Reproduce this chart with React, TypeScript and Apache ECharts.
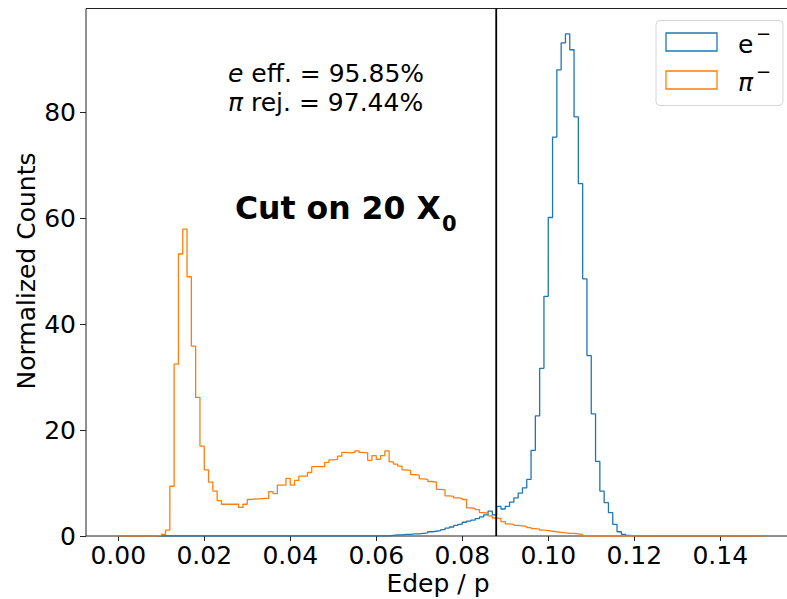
import React, { useEffect, useRef } from "react";
import * as echarts from "echarts";

// Histogram binning (bin edges from 0 to 0.15, 150 bins)
const BIN_START = 0;
const BIN_WIDTH = 0.001;
const HIST_END = 0.15;
const CUT_VALUE = 0.0879;
const Y_MAX = 99.7;

const X_TICKS = [0, 0.02, 0.04, 0.06, 0.08, 0.1, 0.12, 0.14];
const Y_TICKS = [0, 20, 40, 60, 80];

// e- normalized counts per bin
const ELECTRON = [
  0, 0, 0, 0, 0, 0, 0, 0, 0, 0,
  0, 0, 0, 0, 0, 0, 0, 0, 0, 0,
  0, 0, 0, 0, 0, 0, 0, 0, 0, 0,
  0, 0, 0, 0, 0, 0, 0, 0, 0, 0,
  0, 0, 0, 0, 0, 0, 0, 0, 0, 0,
  0, 0, 0, 0, 0, 0, 0, 0, 0, 0,
  0, 0, 0, 0.1, 0.2, 0.2, 0.3, 0.3, 0.4, 0.4,
  0.5, 0.6, 0.8, 0.9, 1.0, 1.2, 1.5, 1.7, 2.0, 2.2,
  2.6, 2.8, 3.0, 3.3, 3.6, 4.0, 4.7, 4.0, 5.6, 5.1,
  5.6, 6.4, 7.2, 8.1, 9.1, 10.7, 16.2, 22.7, 31.7, 45.3,
  60.2, 75.4, 88.1, 93.2, 94.9, 91.9, 79.2, 66.6, 48.6, 34.1,
  23.1, 14.1, 8.5, 6.3, 4.4, 2.2, 0.8, 0.3, 0.1, 0,
  0, 0, 0, 0, 0, 0, 0, 0, 0, 0,
  0, 0, 0, 0, 0, 0, 0, 0, 0, 0,
  0, 0, 0, 0, 0, 0, 0, 0, 0, 0,
];

// pi- normalized counts per bin
const PION = [
  0, 0, 0, 0, 0, 0, 0, 0, 0, 0.1,
  0.3, 1.1, 9.4, 32.5, 53.3, 58.0, 49.0, 35.9, 26.2, 17.0,
  12.5, 10.2, 8.5, 6.7, 6.0, 6.0, 6.0, 6.0, 5.4, 6.0,
  6.9, 7.0, 7.0, 7.1, 7.1, 8.4, 8.0, 9.6, 9.6, 10.9,
  9.6, 10.5, 11.3, 11.3, 12.0, 13.1, 13.1, 13.1, 13.9, 14.4,
  14.5, 15.1, 15.8, 15.7, 15.8, 16.1, 15.8, 15.7, 14.3, 15.2,
  14.5, 15.2, 16.1, 14.0, 13.6, 13.2, 12.5, 12.4, 11.6, 11.5,
  10.8, 10.7, 10.3, 10.2, 8.8, 8.7, 7.6, 7.5, 7.2, 7.1,
  6.9, 5.3, 5.2, 5.0, 4.4, 4.3, 3.8, 3.4, 3.3, 2.7,
  2.3, 2.2, 2.0, 1.9, 1.8, 1.6, 1.4, 1.3, 1.1, 1.0,
  0.9, 0.8, 0.7, 0.6, 0.5, 0.5, 0.4, 0.3, 0, 0,
  0, 0, 0, 0, 0, 0, 0, 0, 0, 0,
  0, 0, 0, 0, 0, 0, 0, 0, 0, 0,
  0, 0, 0, 0, 0, 0, 0, 0, 0, 0,
  0, 0, 0, 0, 0, 0, 0, 0, 0, 0,
];

const BLUE = "#1f77b4";
const ORANGE = "#ff7f0e";
const FONT = "DejaVu Sans";
const FS = 25;

function stepData(vals: number[]): number[][] {
  const pts: number[][] = [[BIN_START, 0]];
  vals.forEach((v, i) => pts.push([BIN_START + i * BIN_WIDTH, v]));
  pts.push([HIST_END, vals[vals.length - 1]]);
  pts.push([HIST_END, 0]);
  return pts;
}

export default function App() {
  const ref = useRef<HTMLDivElement>(null);

  useEffect(() => {
    if (!ref.current) return;
    const chart = echarts.init(ref.current, null, { renderer: "svg" });
    const option: any = {
      animation: false,
      backgroundColor: "#ffffff",
      grid: {
        left: 86,
        right: -8.5,
        top: 8.5,
        bottom: 63,
        show: true,
        borderColor: "#222",
        borderWidth: 1,
        backgroundColor: "transparent",
        outerBoundsMode: "none",
        containLabel: false,
      },
      xAxis: {
        type: "value",
        min: -0.0075,
        max: 0.1575,
        splitLine: { show: false },
        axisLine: { show: false, onZero: false },
        axisTick: {
          show: true,
          inside: false,
          length: 5,
          customValues: X_TICKS,
          lineStyle: { color: "#222", width: 1 },
        },
        axisLabel: {
          customValues: X_TICKS,
          formatter: (v: number) => v.toFixed(2),
          fontFamily: FONT,
          fontSize: FS,
          color: "#000",
          margin: 7,
        },
      },
      yAxis: {
        type: "value",
        min: 0,
        max: Y_MAX,
        splitLine: { show: false },
        axisLine: { show: false, onZero: false },
        axisTick: {
          show: true,
          inside: false,
          length: 6,
          customValues: Y_TICKS,
          lineStyle: { color: "#222", width: 1 },
        },
        axisLabel: {
          customValues: Y_TICKS,
          fontFamily: FONT,
          fontSize: FS,
          color: "#000",
          margin: 10,
        },
      },
      series: [
        {
          name: "e⁻",
          type: "line",
          step: "end",
          showSymbol: false,
          data: stepData(ELECTRON),
          lineStyle: { color: BLUE, width: 1.3 },
          itemStyle: { color: BLUE },
          clip: true,
        },
        {
          name: "π⁻",
          type: "line",
          step: "end",
          showSymbol: false,
          data: stepData(PION),
          lineStyle: { color: ORANGE, width: 1.3 },
          itemStyle: { color: ORANGE },
          clip: true,
        },
        {
          name: "cut",
          type: "line",
          showSymbol: false,
          data: [
            [CUT_VALUE, 0],
            [CUT_VALUE, Y_MAX],
          ],
          lineStyle: { color: "#000", width: 1.8 },
          itemStyle: { color: "#000" },
          clip: true,
        },
      ],
      graphic: [
        {
          type: "text",
          x: 228,
          y: 73.5,
          style: {
            text: "{i|e} eff. = 95.85%",
            fontFamily: FONT,
            fontSize: FS,
            fill: "#000",
            verticalAlign: "middle",
            align: "left",
            rich: {
              i: { fontFamily: FONT, fontSize: FS, fontStyle: "italic", fill: "#000" },
            },
          },
        },
        {
          type: "text",
          x: 228,
          y: 102,
          style: {
            text: "{i|π} rej. = 97.44%",
            fontFamily: FONT,
            fontSize: FS,
            fill: "#000",
            verticalAlign: "middle",
            align: "left",
            rich: {
              i: { fontFamily: FONT, fontSize: FS, fontStyle: "italic", fill: "#000" },
            },
          },
        },
        {
          type: "text",
          x: 235,
          y: 208,
          style: {
            text: "Cut on 20 X",
            fontFamily: FONT,
            fontWeight: "bold",
            fontSize: 31.5,
            fill: "#000",
            verticalAlign: "middle",
            align: "left",
          },
        },
        {
          type: "text",
          x: 442,
          y: 224,
          style: {
            text: "0",
            fontFamily: FONT,
            fontWeight: "bold",
            fontSize: 21,
            fill: "#000",
            verticalAlign: "middle",
            align: "left",
          },
        },
        {
          type: "text",
          x: 26,
          y: 271,
          rotation: Math.PI / 2,
          style: {
            text: "Normalized Counts",
            fontFamily: FONT,
            fontSize: FS,
            fill: "#000",
            verticalAlign: "middle",
            align: "center",
          },
        },
        {
          type: "text",
          x: 438,
          y: 583,
          style: {
            text: "Edep / p",
            fontFamily: FONT,
            fontSize: FS,
            fill: "#000",
            verticalAlign: "middle",
            align: "center",
          },
        },
        // legend
        {
          type: "rect",
          shape: { x: 656, y: 20.5, width: 127, height: 85, r: 4 },
          style: { fill: "rgba(255,255,255,0.8)", stroke: "#d5d5d5", lineWidth: 1 },
          z: 10,
        },
        {
          type: "rect",
          shape: { x: 666, y: 33, width: 51, height: 18 },
          style: { fill: "none", stroke: BLUE, lineWidth: 1.3 },
          z: 11,
        },
        {
          type: "rect",
          shape: { x: 666, y: 71, width: 51, height: 18 },
          style: { fill: "none", stroke: ORANGE, lineWidth: 1.3 },
          z: 11,
        },
        {
          type: "text",
          x: 738,
          y: 44,
          z: 11,
          style: { text: "e", fontFamily: FONT, fontSize: FS, fill: "#000", verticalAlign: "middle", align: "left" },
        },
        {
          type: "text",
          x: 756,
          y: 33,
          z: 11,
          style: { text: "−", fontFamily: FONT, fontSize: 18, fill: "#000", verticalAlign: "middle", align: "left" },
        },
        {
          type: "text",
          x: 738,
          y: 82,
          z: 11,
          style: { text: "π", fontFamily: FONT, fontStyle: "italic", fontSize: FS, fill: "#000", verticalAlign: "middle", align: "left" },
        },
        {
          type: "text",
          x: 756,
          y: 71,
          z: 11,
          style: { text: "−", fontFamily: FONT, fontSize: 18, fill: "#000", verticalAlign: "middle", align: "left" },
        },
      ],
    };
    chart.setOption(option);
    return () => chart.dispose();
  }, []);

  return (
    <div
      ref={ref}
      style={{ position: "absolute", left: 0, top: 0, width: 787, height: 599 }}
    />
  );
}
